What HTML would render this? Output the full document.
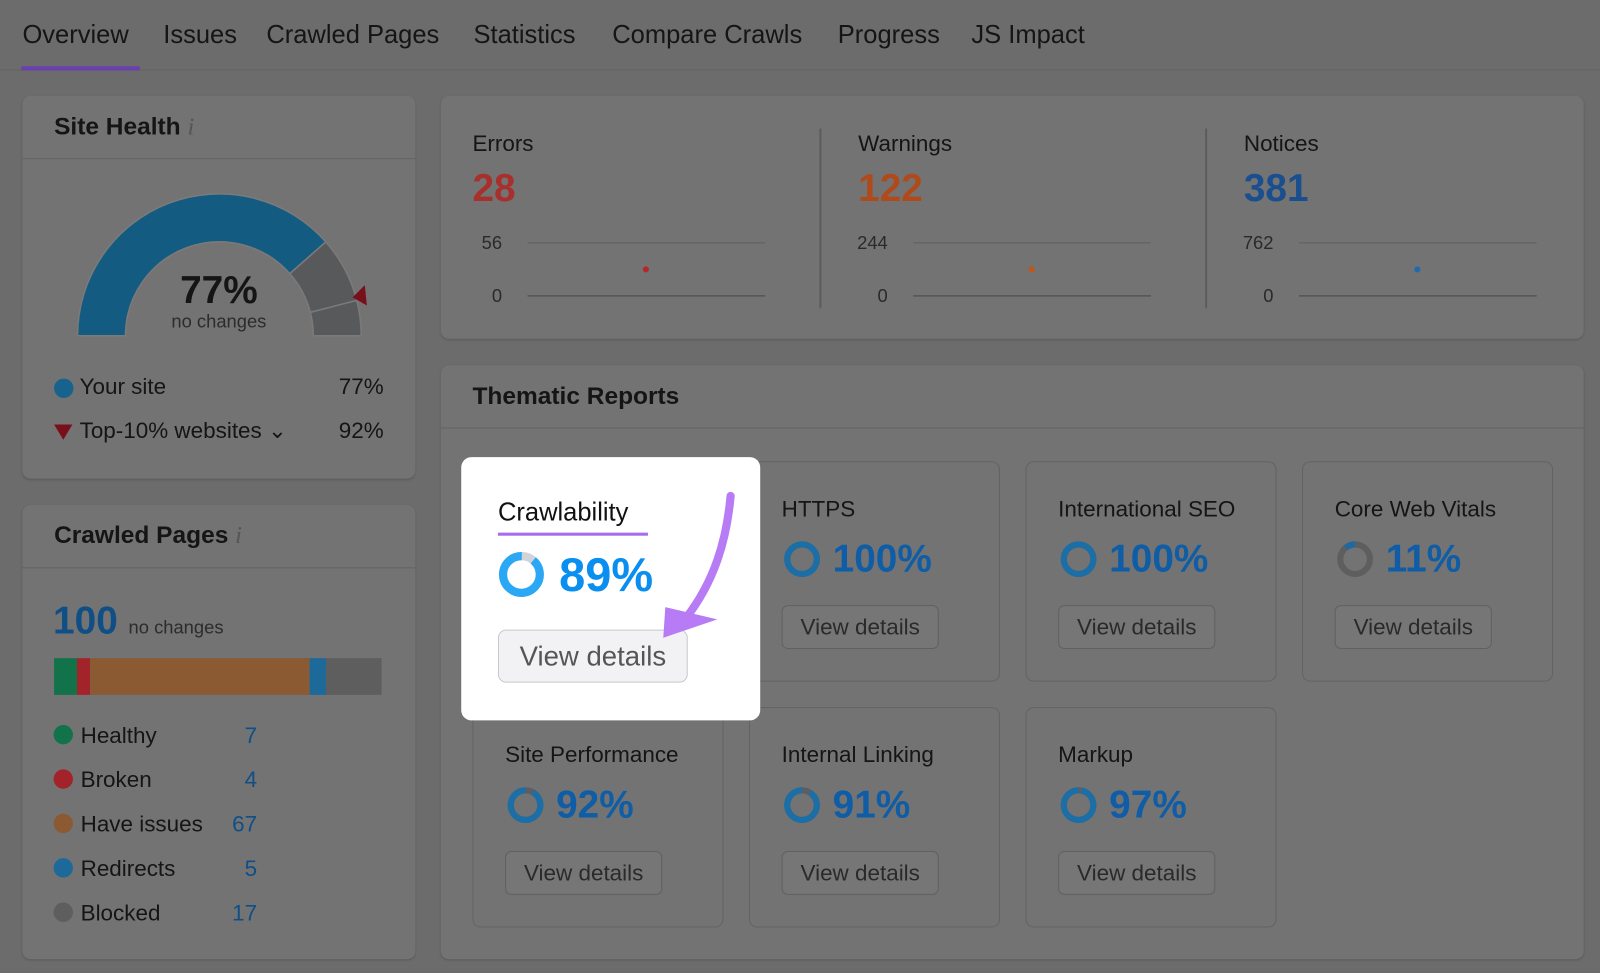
<!DOCTYPE html>
<html><head><meta charset="utf-8"><style>
html,body{margin:0;padding:0;width:1600px;height:973px;overflow:hidden;background:#6c6c6c;font-family:"Liberation Sans",sans-serif;}
#s{position:absolute;left:0;top:0;width:1568px;height:954px;transform:scale(1.020408);transform-origin:0 0;}
.a{position:absolute;}
.card{position:absolute;background:#737373;border-radius:8px;box-shadow:0 1px 2px rgba(0,0,0,.15);}
.t{color:#151515;}
.btn{position:absolute;border:1px solid #606060;border-radius:6px;background:#767676;color:#2a2a2a;font-size:22px;text-align:center;}
.tc{position:absolute;border:1.5px solid #636363;border-radius:8px;}
</style></head><body>
<div id="s">
<!-- tabs -->
<div class="a" style="left:0;top:68px;width:1568px;height:1px;background:#626262"></div>
<div class="a t" style="left:22px;top:20px;font-size:25px;">Overview</div>
<div class="a" style="left:21px;top:65px;width:116px;height:4px;background:#6a3fb0"></div>
<div class="a t" style="left:160px;top:20px;font-size:25px;">Issues</div>
<div class="a t" style="left:261px;top:20px;font-size:25px;">Crawled Pages</div>
<div class="a t" style="left:464px;top:20px;font-size:25px;">Statistics</div>
<div class="a t" style="left:600px;top:20px;font-size:25px;">Compare Crawls</div>
<div class="a t" style="left:821px;top:20px;font-size:25px;">Progress</div>
<div class="a t" style="left:952px;top:20px;font-size:25px;">JS Impact</div>

<!-- site health -->
<div class="card" style="left:22px;top:94px;width:385px;height:375px">
 <div class="a t" style="left:31px;top:17px;font-size:24px;font-weight:bold">Site Health <span style="color:#555;font-style:italic;font-weight:normal;font-family:'Liberation Serif'">i</span></div>
 <div class="a" style="left:0;top:61px;width:385px;height:1px;background:#646464"></div>
 <div class="a t" style="left:0;top:170px;width:385px;text-align:center;font-size:38px;font-weight:bold">77%</div>
 <div class="a" style="left:0;top:211px;width:385px;text-align:center;font-size:18px;color:#2c2c2c">no changes</div>
 <div class="a" style="left:31px;top:277px;width:19px;height:19px;border-radius:50%;background:#18628e"></div>
 <div class="a t" style="left:56px;top:272px;font-size:22px">Your site</div>
 <div class="a t" style="left:310px;top:272px;font-size:22px">77%</div>
 <div class="a" style="left:31px;top:322px;width:0;height:0;border-left:9px solid transparent;border-right:9px solid transparent;border-top:15px solid #7a0f1c"></div>
 <div class="a t" style="left:56px;top:315px;font-size:22px">Top-10% websites &#x2304;</div>
 <div class="a t" style="left:310px;top:315px;font-size:22px">92%</div>
</div>
<svg class="a" style="left:0;top:0" width="430" height="470" id="gauge"></svg>

<!-- crawled pages -->
<div class="card" style="left:22px;top:495px;width:385px;height:445px">
 <div class="a t" style="left:31px;top:16px;font-size:24px;font-weight:bold">Crawled Pages <span style="color:#555;font-style:italic;font-weight:normal;font-family:'Liberation Serif'">i</span></div>
 <div class="a" style="left:0;top:61px;width:385px;height:1px;background:#646464"></div>
 <div class="a" style="left:30px;top:93px;font-size:38px;font-weight:bold;color:#0f4f86">100 <span style="font-size:18px;font-weight:normal;color:#2c2c2c">no changes</span></div>
</div>
<svg class="a" style="left:0;top:0" width="430" height="950" id="pages"></svg>

<!-- issues summary -->
<div class="card" style="left:432px;top:94px;width:1120px;height:238px"></div>
<div class="a" style="left:803px;top:126px;width:1.5px;height:176px;background:#5c5c5c"></div>
<div class="a" style="left:1181px;top:126px;width:1.5px;height:176px;background:#5c5c5c"></div>
<svg class="a" style="left:0;top:0" width="1568" height="340" id="spark"></svg>

<!-- thematic -->
<div class="card" style="left:432px;top:358px;width:1120px;height:582px">
 <div class="a t" style="left:31px;top:17px;font-size:24px;font-weight:bold">Thematic Reports</div>
 <div class="a" style="left:0;top:61px;width:1120px;height:1px;background:#646464"></div>
</div>
<div id="tiles"></div>
<div class="a" style="left:452px;top:448px;width:293px;height:258px;background:#fff;border-radius:10px">
 <div class="a" style="left:36px;top:40px;font-size:25px;color:#111">Crawlability</div>
 <div class="a" style="left:36px;top:74px;width:147px;height:3px;background:#a56ef0"></div>
 <svg class="a" style="left:36px;top:92px" width="46" height="46"><circle cx="23" cy="23" r="18" fill="none" stroke="#d0d3d8" stroke-width="8"/><circle cx="23" cy="23" r="18" fill="none" stroke="#2aa8f5" stroke-width="8" stroke-dasharray="100.7 200" transform="rotate(-50 23 23)"/></svg>
 <div class="a" style="left:96px;top:88px;font-size:46px;font-weight:bold;color:#0a8ef0">89%</div>
 <div class="a" style="left:36px;top:169px;width:184px;height:50px;border:1px solid #c8c8cc;border-radius:8px;background:#f2f2f4;color:#555;font-size:27px;text-align:center;line-height:50px">View details</div>
</div>
<svg class="a" style="left:0;top:0" width="1568" height="954"><path d="M716 486 C712 530 700 570 672 606" fill="none" stroke="#b77cf5" stroke-width="8" stroke-linecap="round"/><polygon points="652,595 703,607 650,625" fill="#b77cf5"/></svg>
</div>
<script>
const NS='http://www.w3.org/2000/svg';
function mk(p,t,a){const e=document.createElementNS(NS,t);for(const k in a)e.setAttribute(k,a[k]);p.appendChild(e);return e;}
// gauge
const healthScore=77, top10Score=92;
const g=document.getElementById('gauge');
const cx=215,cy=329,R=139,r=92;
function pt(rad,pct){const an=Math.PI*(1-pct/100);return [cx+rad*Math.cos(an),cy-rad*Math.sin(an)];}
function arc(p0,p1,col){const a=pt(R,p0),b=pt(R,p1),c=pt(r,p1),d=pt(r,p0);const e=mk(g,'path',{d:`M${a}L${a} A${R} ${R} 0 0 1 ${b} L${c} A${r} ${r} 0 0 0 ${d}Z`,fill:col,stroke:'#7a7a7a','stroke-width':1.5});return e;}
let e1=arc(0,healthScore,'#135b80');
let e2=arc(healthScore,top10Score,'#58595b');
let e3=arc(top10Score,100,'#58595b');
const tp=pt(R+4,top10Score);const tri=mk(g,'polygon',{points:`${tp[0]-8},${tp[1]-2} ${tp[0]+4},${tp[1]-14} ${tp[0]+6},${tp[1]+6}`,fill:'#7a0f1c'});

// pages
const pageCats=['Healthy','Broken','Have issues','Redirects','Blocked'];
const pageVals=[7,4,67,5,17];
const pageCols=['#12734a','#a3232a','#8b5a32','#1d6a9a','#5e5e5e'];
const ps=document.getElementById('pages');
const tot=pageVals.reduce((a,b)=>a+b,0);let x=53;
pageVals.forEach((v,i)=>{const w=v/tot*321;const b=mk(ps,'rect',{x:x,y:645,width:w,height:36,fill:pageCols[i]});
x+=w;
const y=720+i*43.5;mk(ps,'circle',{cx:62,cy:y,r:9.5,fill:pageCols[i]});
const l=mk(ps,'text',{x:79,y:y+8,'font-size':22,fill:'#151515'});l.textContent=pageCats[i];
const n=mk(ps,'text',{x:252,y:y+8,'font-size':22,fill:'#0f4f86','text-anchor':'end'});n.textContent=v;});
// sparklines
const issueNames=['Errors','Warnings','Notices'];
const issueVals=[28,122,381];
const issueMax=[56,244,762];
const issueCols=['#a8302c','#b04a1a','#1a4f8f'];
const dotCols=['#b8262a','#c0561a','#1f6bb0'];
const sp=document.getElementById('spark');
issueNames.forEach((nm,i)=>{const x0=463+i*378;
const t=mk(sp,'text',{x:x0,y:148,'font-size':22,fill:'#151515'});t.textContent=nm+' ';const ii=mk(sp,'tspan',{fill:'#555','font-style':'italic','font-family':'Liberation Serif'});ii.textContent=' i';
const v=mk(sp,'text',{x:x0,y:197,'font-size':38,'font-weight':'bold',fill:issueCols[i]});v.textContent=issueVals[i];
const yS=val=>290-val/issueMax[i]*52;
const tm=mk(sp,'text',{x:x0+29,y:yS(issueMax[i])+6,'font-size':18,fill:'#2a2a2a','text-anchor':'end'});tm.textContent=issueMax[i];
const t0=mk(sp,'text',{x:x0+29,y:yS(0)+6,'font-size':18,fill:'#2a2a2a','text-anchor':'end'});t0.textContent=0;
mk(sp,'line',{x1:x0+54,x2:x0+287,y1:yS(issueMax[i]),y2:yS(issueMax[i]),stroke:'#5e5e5e','stroke-width':1});
mk(sp,'line',{x1:x0+54,x2:x0+287,y1:yS(0),y2:yS(0),stroke:'#555','stroke-width':1.5});
const d=mk(sp,'circle',{cx:x0+170,cy:yS(issueVals[i]),r:3,fill:dotCols[i]});});
// tiles
const tileNames=['HTTPS','International SEO','Core Web Vitals','Site Performance','Internal Linking','Markup'];
const tileVals=[100,100,11,92,91,97];
const tilePos=[[734,452],[1005,452],[1276,452],[463,693],[734,693],[1005,693]];
const T=document.getElementById('tiles');
tileNames.forEach((nm,i)=>{const [lx,ly]=tilePos[i];const d=document.createElement('div');d.className='tc';
d.style.cssText=`left:${lx}px;top:${ly}px;width:244px;height:214px`;


const c=2*Math.PI*14.5,f=tileVals[i]/100*c;
d.innerHTML=`<div class="a t" style="left:31px;top:33px;font-size:22px">${nm}</div>
<svg class="a" style="left:31px;top:75px" width="40" height="40"><circle cx="20" cy="20" r="14.5" fill="none" stroke="#5e5e5e" stroke-width="6"/><circle cx="20" cy="20" r="14.5" fill="none" stroke="${tileVals[i]<50?'#1e6aa0':'#1b6ea6'}" stroke-width="6" stroke-dasharray="${f} 200" transform="rotate(${-90+(1-tileVals[i]/100)*360} 20 20)"/></svg>
<div class="a" style="left:81px;top:74px;font-size:38px;font-weight:bold;color:#0e5da6">${tileVals[i]}%</div>
<div class="btn" style="left:31px;top:140px;width:152px;height:41px;line-height:41px">View details</div>`;
T.appendChild(d);});
</script>
</body></html>
